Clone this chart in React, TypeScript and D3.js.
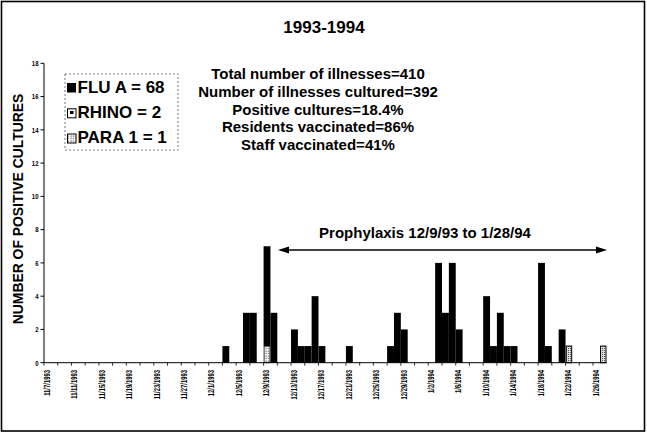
import React from "react";
import * as d3 from "d3";

const W = 647;
const H = 437;

// Daily categories from 11/7/1993 through 1/27/1994
const firstDay = new Date(1993, 10, 7);
const lastDayExclusive = new Date(1994, 0, 28);

const tickLabels = [
  "11/7/1993", "11/11/1993", "11/15/1993", "11/19/1993", "11/23/1993", "11/27/1993",
  "12/1/1993", "12/5/1993", "12/9/1993", "12/13/1993", "12/17/1993", "12/21/1993",
  "12/25/1993", "12/29/1993", "1/2/1994", "1/6/1994", "1/10/1994", "1/14/1994",
  "1/18/1994", "1/22/1994", "1/26/1994",
];

const fluDates = [
  "12/3/1993", "12/6/1993", "12/7/1993", "12/9/1993", "12/10/1993", "12/13/1993",
  "12/14/1993", "12/15/1993", "12/16/1993", "12/17/1993", "12/21/1993", "12/27/1993",
  "12/28/1993", "12/29/1993", "1/3/1994", "1/4/1994", "1/5/1994", "1/6/1994",
  "1/10/1994", "1/11/1994", "1/12/1994", "1/13/1994", "1/14/1994", "1/18/1994",
  "1/19/1994", "1/21/1994",
];
const fluCounts = [1, 3, 3, 6, 3, 2, 1, 1, 4, 1, 1, 1, 3, 2, 6, 3, 6, 2, 4, 1, 3, 1, 1, 6, 1, 2];

const paraDates = ["12/9/1993"];
const paraCounts = [1];

const rhinoDates = ["1/22/1994", "1/27/1994"];
const rhinoCounts = [1, 1];

const statsLines = [
  "Total number of illnesses=410",
  "Number of illnesses cultured=392",
  "Positive cultures=18.4%",
  "Residents vaccinated=86%",
  "Staff vaccinated=41%",
];

const legendItems = ["FLU A = 68", "RHINO = 2", "PARA 1 = 1"];
const yTicks = [0, 2, 4, 6, 8, 10, 12, 14, 16, 18];

const fmt = d3.timeFormat("%-m/%-d/%Y");
const days = d3.timeDay.range(firstDay, lastDayExclusive).map((d) => fmt(d));

const FONT = "'Liberation Sans', Arial, Helvetica, sans-serif";

export default function App() {
  const x = d3.scaleBand<string>().domain(days).range([44, 606.7]).padding(0);
  const y = d3.scaleLinear().domain([0, 18]).range([362.7, 63.3]);
  const bw = x.bandwidth();

  const paraMap = new Map(paraDates.map((d, i) => [d, paraCounts[i]]));

  const arrowY = 250;
  const arrowL = 278;
  const arrowR = 607;

  return (
    <svg
      width={W}
      height={H}
      style={{ position: "absolute", left: 0, top: 0, background: "#fff" }}
      fontFamily={FONT}
    >
      <defs>
        <pattern id="para" width="2.5" height="2.5" patternUnits="userSpaceOnUse">
          <rect width="2.5" height="2.5" fill="#fff" />
          <rect x="0.5" y="0.5" width="1.1" height="1.1" fill="#333" />
        </pattern>
        <pattern id="rhino" width="2" height="2" patternUnits="userSpaceOnUse">
          <rect width="2" height="2" fill="#ddd" />
          <rect x="0" y="0" width="1" height="1" fill="#555" />
        </pattern>
      </defs>
      <rect x={0} y={0} width={W} height={H} fill="#fff" />
      {/* outer frame */}
      <rect x={1.5} y={1.5} width={643} height={429.5} fill="none" stroke="#000" strokeWidth={1.6} />

      {/* title */}
      <text x={324} y={33} textAnchor="middle" fontSize={17} fontWeight="bold">
        1993-1994
      </text>

      {/* stats */}
      {statsLines.map((s, i) => (
        <text key={s} x={318} y={79 + i * 17.8} textAnchor="middle" fontSize={15} fontWeight="bold">
          {s}
        </text>
      ))}

      {/* y axis title */}
      <text
        transform={`translate(23,209) rotate(-90)`}
        textAnchor="middle"
        fontSize={13.9}
        fontWeight="bold"
      >
        NUMBER OF POSITIVE CULTURES
      </text>

      {/* bars: PARA at base, FLU A stacked above */}
      {fluDates.map((d, i) => {
        const base = paraMap.get(d) || 0;
        return (
          <rect
            key={"f" + d}
            x={x(d)}
            y={y(base + fluCounts[i])}
            width={bw}
            height={y(base) - y(base + fluCounts[i])}
            fill="#000"
          />
        );
      })}
      {paraDates.map((d, i) => (
        <rect
          key={"p" + d}
          x={(x(d) as number) + 0.5}
          y={y(paraCounts[i])}
          width={bw - 1}
          height={y(0) - y(paraCounts[i])}
          fill="url(#para)"
          stroke="#000"
          strokeWidth={0.8}
        />
      ))}
      {rhinoDates.map((d, i) => (
        <rect
          key={"r" + d}
          x={(x(d) as number) + 0.7}
          y={y(rhinoCounts[i])}
          width={bw - 1.4}
          height={y(0) - y(rhinoCounts[i])}
          fill="url(#rhino)"
          stroke="#000"
          strokeWidth={1}
        />
      ))}

      {/* y axis */}
      <line x1={44} x2={44} y1={y(18)} y2={y(0)} stroke="#000" strokeWidth={1} />
      {yTicks.map((t) => (
        <g key={t}>
          <line x1={40.5} x2={44} y1={y(t)} y2={y(t)} stroke="#000" strokeWidth={1} />
          <text
            transform={`translate(38.5,${y(t)}) scale(0.75,1)`}
            dy="0.35em"
            textAnchor="end"
            fontSize={8}
            fontWeight="bold"
          >
            {t}
          </text>
        </g>
      ))}

      {/* x axis */}
      <line x1={44} x2={606.7} y1={y(0)} y2={y(0)} stroke="#000" strokeWidth={1} />
      {days.map((d, i) =>
        i % 2 === 0 ? (
          <line
            key={"t" + d}
            x1={x(d) as number}
            x2={x(d) as number}
            y1={y(0)}
            y2={y(0) + 3}
            stroke="#000"
            strokeWidth={0.8}
          />
        ) : null
      )}
      {tickLabels.map((lab) => {
        const cx = (x(lab) as number) + bw / 2;
        return (
          <text
            key={lab}
            transform={`translate(${cx},370) rotate(-90) scale(0.72,1)`}
            textAnchor="end"
            dominantBaseline="central"
            fontSize={8.2}
            fontWeight="bold"
          >
            {lab}
          </text>
        );
      })}

      {/* legend */}
      <rect
        x={65}
        y={74}
        width={113}
        height={76}
        fill="#fff"
        stroke="#777"
        strokeWidth={1}
        strokeDasharray="2,2"
      />
      <rect x={67} y={83} width={9} height={9.5} fill="#000" />
      <rect x={67.5} y={108.8} width={8.5} height={9} fill="#fff" stroke="#000" strokeWidth={1} />
      <rect x={70} y={111} width={3.5} height={3} fill="#000" />
      <rect x={67.5} y={134} width={8.5} height={9} fill="url(#para)" stroke="#000" strokeWidth={1} />
      {legendItems.map((s, i) => (
        <text key={s} x={77.5} y={92.7 + i * 25.3} fontSize={17} fontWeight="bold">
          {s}
        </text>
      ))}

      {/* prophylaxis arrow */}
      <text x={425} y={238.3} textAnchor="middle" fontSize={15} fontWeight="bold">
        Prophylaxis 12/9/93 to 1/28/94
      </text>
      <line x1={arrowL + 8} x2={arrowR - 8} y1={arrowY} y2={arrowY} stroke="#000" strokeWidth={1.3} />
      <path d={`M${arrowL},${arrowY} L${arrowL + 11},${arrowY - 3.5} L${arrowL + 11},${arrowY + 3.5} Z`} fill="#000" />
      <path d={`M${arrowR},${arrowY} L${arrowR - 11},${arrowY - 3.5} L${arrowR - 11},${arrowY + 3.5} Z`} fill="#000" />
    </svg>
  );
}
